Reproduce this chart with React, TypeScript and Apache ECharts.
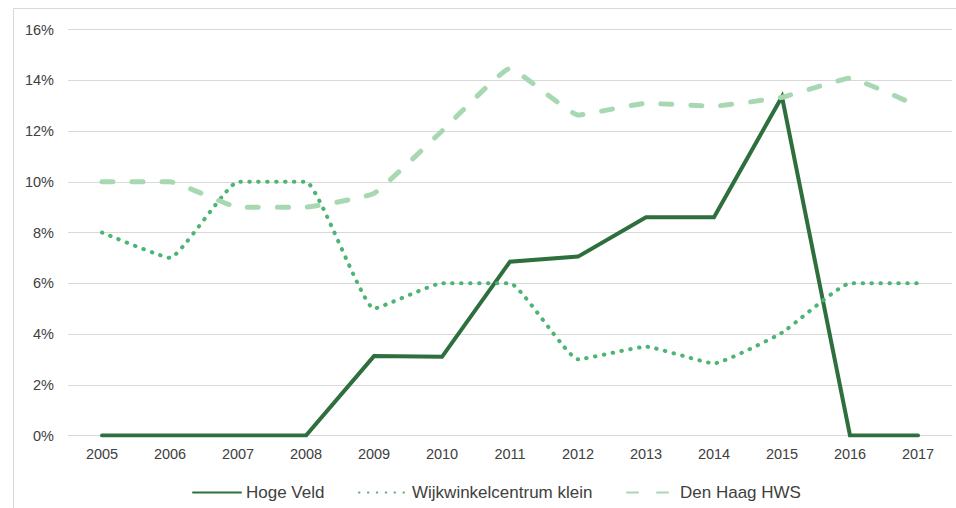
import React, { useEffect, useRef } from "react";
import * as echarts from "echarts";

const years = ["2005", "2006", "2007", "2008", "2009", "2010", "2011", "2012", "2013", "2014", "2015", "2016", "2017"];
const hogeVeld = [0, 0, 0, 0, 3.13, 3.1, 6.85, 7.05, 8.6, 8.6, 13.35, 0, 0];
const wijkwinkel = [8, 7, 10, 10, 5, 6, 6, 3, 3.5, 2.84, 4.05, 6, 6];
const denHaag = [10, 10, 9, 9, 9.54, 12, 14.47, 12.63, 13.09, 12.98, 13.33, 14.08, 12.98];
const yTicks = { min: 0, max: 16, interval: 2 };

const FONT = "'Liberation Sans', Arial, sans-serif";
const TEXT = "#404040";

export default function App() {
  const ref = useRef<HTMLDivElement>(null);
  useEffect(() => {
    if (!ref.current) return;
    const chart = echarts.init(ref.current, undefined, { renderer: "svg" });
    const legendText = { fontSize: 17, color: TEXT, fontFamily: FONT };
    const legendBase = {
      top: 479,
      itemWidth: 48,
      itemHeight: 12,
      textStyle: legendText,
      itemGap: 0,
      itemStyle: { opacity: 0 },
    };
    chart.setOption({
      animation: false,
      backgroundColor: "#ffffff",
      textStyle: { fontFamily: FONT },
      graphic: [
        {
          type: "rect",
          shape: { x: 13.5, y: 8.5, width: 1200, height: 800 },
          style: { fill: "none", stroke: "#d9d9d9", lineWidth: 1 },
          silent: true,
          z: -10,
        },
      ],
      grid: { left: 68, right: 4, top: 29.5, bottom: 72.5 },
      legend: [
        { ...legendBase, left: 187, data: ["Hoge Veld"] },
        { ...legendBase, left: 353, data: ["Wijkwinkelcentrum klein"] },
        { ...legendBase, left: 621, data: ["Den Haag HWS"] },
      ],
      xAxis: {
        type: "category",
        data: years,
        boundaryGap: true,
        axisLine: { show: true, lineStyle: { color: "#d9d9d9", width: 1 } },
        axisTick: { show: false },
        axisLabel: { color: TEXT, fontSize: 14.5, margin: 11, fontFamily: FONT },
      },
      yAxis: {
        type: "value",
        min: yTicks.min,
        max: yTicks.max,
        interval: yTicks.interval,
        axisLine: { show: false },
        axisTick: { show: false },
        axisLabel: { color: TEXT, fontSize: 14.5, margin: 14, formatter: "{value}%", fontFamily: FONT },
        splitLine: { lineStyle: { color: "#d9d9d9", width: 1 } },
      },
      series: [
        {
          name: "Hoge Veld",
          type: "line",
          data: hogeVeld,
          symbol: "none",
          color: "#2e6f3e",
          lineStyle: { color: "#2e6f3e", width: 4, cap: "round", join: "miter" },
        },
        {
          name: "Wijkwinkelcentrum klein",
          type: "line",
          data: wijkwinkel,
          symbol: "none",
          smooth: 0.12,
          color: "#4cb474",
          lineStyle: { color: "#4cb474", width: 4, type: [0.5, 8.4], cap: "round" },
        },
        {
          name: "Den Haag HWS",
          type: "line",
          data: denHaag,
          symbol: "none",
          smooth: 0.1,
          color: "#a8d8b1",
          lineStyle: { color: "#a8d8b1", width: 5, type: [11, 19], cap: "round" },
        },
      ],
    });
    return () => chart.dispose();
  }, []);
  return <div ref={ref} style={{ width: 956, height: 508, position: "absolute", left: 0, top: 0 }} />;
}
